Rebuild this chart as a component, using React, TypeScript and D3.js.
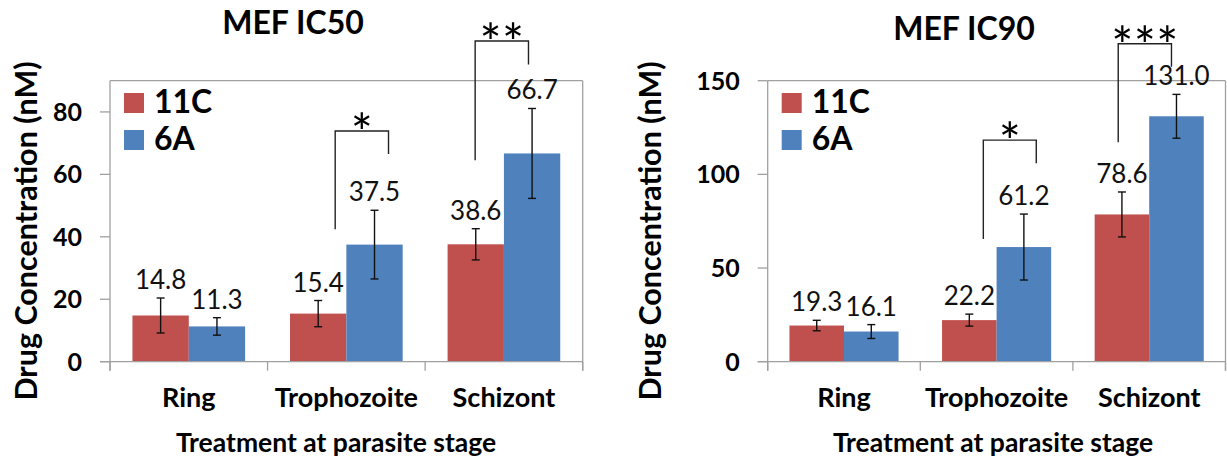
import React from "react";
import * as d3 from "d3";

// chart values
const categories = ["Ring", "Trophozoite", "Schizont"];
const series = ["11C", "6A"];
const colors = ["#C0504D", "#4F81BD"];

const ic50_11C = [14.8, 15.4, 37.6];
const ic50_11C_err = [5.6, 4.2, 5.0];
const ic50_11C_text = ["14.8", "15.4", "38.6"];
const ic50_6A = [11.3, 37.5, 66.7];
const ic50_6A_err = [2.8, 11.0, 14.4];
const ic50_6A_text = ["11.3", "37.5", "66.7"];

const ic90_11C = [19.3, 22.2, 78.6];
const ic90_11C_err = [2.8, 3.2, 12.0];
const ic90_11C_text = ["19.3", "22.2", "78.6"];
const ic90_6A = [16.1, 61.2, 131.0];
const ic90_6A_err = [3.7, 17.6, 11.7];
const ic90_6A_text = ["16.1", "61.2", "131.0"];

const ticks50 = [0, 20, 40, 60, 80];
const ticks90 = [0, 50, 100, 150];

// significance brackets (y in data units)
const sig50 = [
  { cat: "Trophozoite", stars: 1, top: 73.9, left: 42.4, right: 66.5 },
  { cat: "Schizont", stars: 2, top: 102.7, left: 64.5, right: 95.2 },
];
const sig90 = [
  { cat: "Trophozoite", stars: 1, top: 118.3, left: 65.5, right: 105.9 },
  { cat: "Schizont", stars: 3, top: 169.7, left: 117.1, right: 157.4 },
];

const FONT = "Lato, 'Open Sans', sans-serif";

const Chart = ({ cfg }) => {
  const x = d3
    .scaleBand()
    .domain(categories)
    .range([cfg.x0, cfg.x1])
    .paddingInner(0.285)
    .paddingOuter(0.1425);
  const xs = d3.scaleBand().domain(series).range([0, x.bandwidth()]);
  const y = d3.scaleLinear().domain([0, cfg.yMax]).range([cfg.y0, cfg.yTop]);
  const step = x.step();
  const bounds = d3.range(categories.length + 1).map((i) => cfg.x0 + i * step);
  const grey = "#a0a0a0";

  const bars = [];
  series.forEach((s, si) => {
    categories.forEach((c, ci) => {
      bars.push({
        s,
        si,
        c,
        v: cfg.values[si][ci],
        e: cfg.errs[si][ci],
        t: cfg.texts[si][ci],
      });
    });
  });
  const cx = (c, s) => x(c) + xs(s) + xs.bandwidth() / 2;

  return (
    <g fontFamily={FONT}>
      {/* frame */}
      <line x1={cfg.x0} x2={cfg.x0} y1={cfg.yTop} y2={cfg.y0 + 9} stroke={grey} strokeWidth={1.3} />
      <line x1={cfg.x0} x2={cfg.x1} y1={cfg.yTop} y2={cfg.yTop} stroke={grey} strokeWidth={1.3} />
      <line x1={cfg.x1} x2={cfg.x1} y1={cfg.yTop} y2={cfg.y0 + 9} stroke={grey} strokeWidth={1.3} />
      {cfg.ticks.map((t) => (
        <g key={t}>
          <line x1={cfg.x0 - 10} x2={cfg.x0} y1={y(t)} y2={y(t)} stroke={grey} strokeWidth={1.3} />
          <text
            x={cfg.x0 - 28}
            y={y(t)}
            dy="0.36em"
            textAnchor="end"
            fontWeight="bold"
            fontSize={25}
          >
            {t}
          </text>
        </g>
      ))}
      {bounds.map((b, i) => (
        <line key={i} x1={b} x2={b} y1={cfg.y0} y2={cfg.y0 + 9} stroke={grey} strokeWidth={1.3} />
      ))}

      {/* bars */}
      {bars.map((d) => (
        <rect
          key={d.s + d.c}
          x={x(d.c) + xs(d.s)}
          y={y(d.v)}
          width={xs.bandwidth()}
          height={cfg.y0 - y(d.v)}
          fill={colors[d.si]}
        />
      ))}
      <line x1={cfg.x0 - 10} x2={cfg.x1} y1={cfg.y0} y2={cfg.y0} stroke={grey} strokeWidth={1.3} />

      {/* error bars */}
      {bars.map((d) => {
        const px = cx(d.c, d.s);
        return (
          <g key={"e" + d.s + d.c} stroke="#111" strokeWidth={1.4}>
            <line x1={px} x2={px} y1={y(d.v + d.e)} y2={y(d.v - d.e)} />
            <line x1={px - 4} x2={px + 4} y1={y(d.v + d.e)} y2={y(d.v + d.e)} />
            <line x1={px - 4} x2={px + 4} y1={y(d.v - d.e)} y2={y(d.v - d.e)} />
          </g>
        );
      })}

      {/* value labels */}
      {bars.map((d) => (
        <text
          key={"t" + d.s + d.c}
          x={cx(d.c, d.s)}
          y={y(d.v + d.e) - 9}
          textAnchor="middle"
          fontSize={26}
          fill="#111"
        >
          {d.t}
        </text>
      ))}

      {/* significance brackets */}
      {cfg.sig.map((b, i) => {
        const xl = cx(b.cat, series[0]) + cfg.sigDx[i][0];
        const xr = cx(b.cat, series[1]) + cfg.sigDx[i][1];
        const mid = (xl + xr) / 2;
        return (
          <g key={"s" + i}>
            <path
              d={`M${xl},${y(b.left)}V${y(b.top)}H${xr}V${y(b.right)}`}
              fill="none"
              stroke="#222"
              strokeWidth={1.4}
            />
            {d3.range(b.stars).map((k) => (
              <text
                key={k}
                x={mid + (k - (b.stars - 1) / 2) * 22.5}
                y={y(b.top) + 21}
                textAnchor="middle"
                fontSize={52}
              >
                *
              </text>
            ))}
          </g>
        );
      })}

      {/* legend */}
      {series.map((s, i) => (
        <g key={"l" + s}>
          <rect x={cfg.x0 + 14} y={93 + i * 37} width={20} height={20} fill={colors[i]} />
          <text x={cfg.x0 + 44} y={113 + i * 37} fontSize={32} fontWeight="bold">
            {s}
          </text>
        </g>
      ))}

      {/* category labels */}
      {categories.map((c) => (
        <text
          key={"c" + c}
          x={x(c) + x.bandwidth() / 2}
          y={407}
          textAnchor="middle"
          fontSize={27}
          fontWeight="bold"
        >
          {c}
        </text>
      ))}

      <text x={cfg.titleX} y={cfg.titleY} textAnchor="middle" fontSize={32} fontWeight="bold">
        {cfg.title}
      </text>
      <text x={cfg.xTitleX} y={452} textAnchor="middle" fontSize={26.5} fontWeight="bold">
        Treatment at parasite stage
      </text>
      <text
        transform={`translate(${cfg.yTitleX},231) rotate(-90)`}
        textAnchor="middle"
        fontSize={30.5}
        fontWeight="bold"
      >
        Drug Concentration (nM)
      </text>
    </g>
  );
};

const left = {
  title: "MEF IC50",
  x0: 110,
  x1: 582.7,
  yTop: 80.7,
  y0: 361.7,
  yMax: 90,
  ticks: ticks50,
  values: [ic50_11C, ic50_6A],
  errs: [ic50_11C_err, ic50_6A_err],
  texts: [ic50_11C_text, ic50_6A_text],
  sig: sig50,
  sigDx: [
    [17, 14],
    [-0.6, -3.6],
  ],
  titleX: 293,
  titleY: 34,
  xTitleX: 336,
  yTitleX: 37,
};

const right = {
  title: "MEF IC90",
  x0: 767.7,
  x1: 1225.5,
  yTop: 80.7,
  y0: 361.7,
  yMax: 150,
  ticks: ticks90,
  values: [ic90_11C, ic90_6A],
  errs: [ic90_11C_err, ic90_6A_err],
  texts: [ic90_11C_text, ic90_6A_text],
  sig: sig90,
  sigDx: [
    [14, 12.4],
    [-3.7, -5],
  ],
  titleX: 964,
  titleY: 40,
  xTitleX: 993,
  yTitleX: 661,
};

export default function App() {
  return (
    <>
      <style>{"body{margin:0}"}</style>
      <svg width={1227} height={463} style={{ display: "block", background: "#fff" }}>
        <Chart cfg={left} />
        <Chart cfg={right} />
      </svg>
    </>
  );
}
